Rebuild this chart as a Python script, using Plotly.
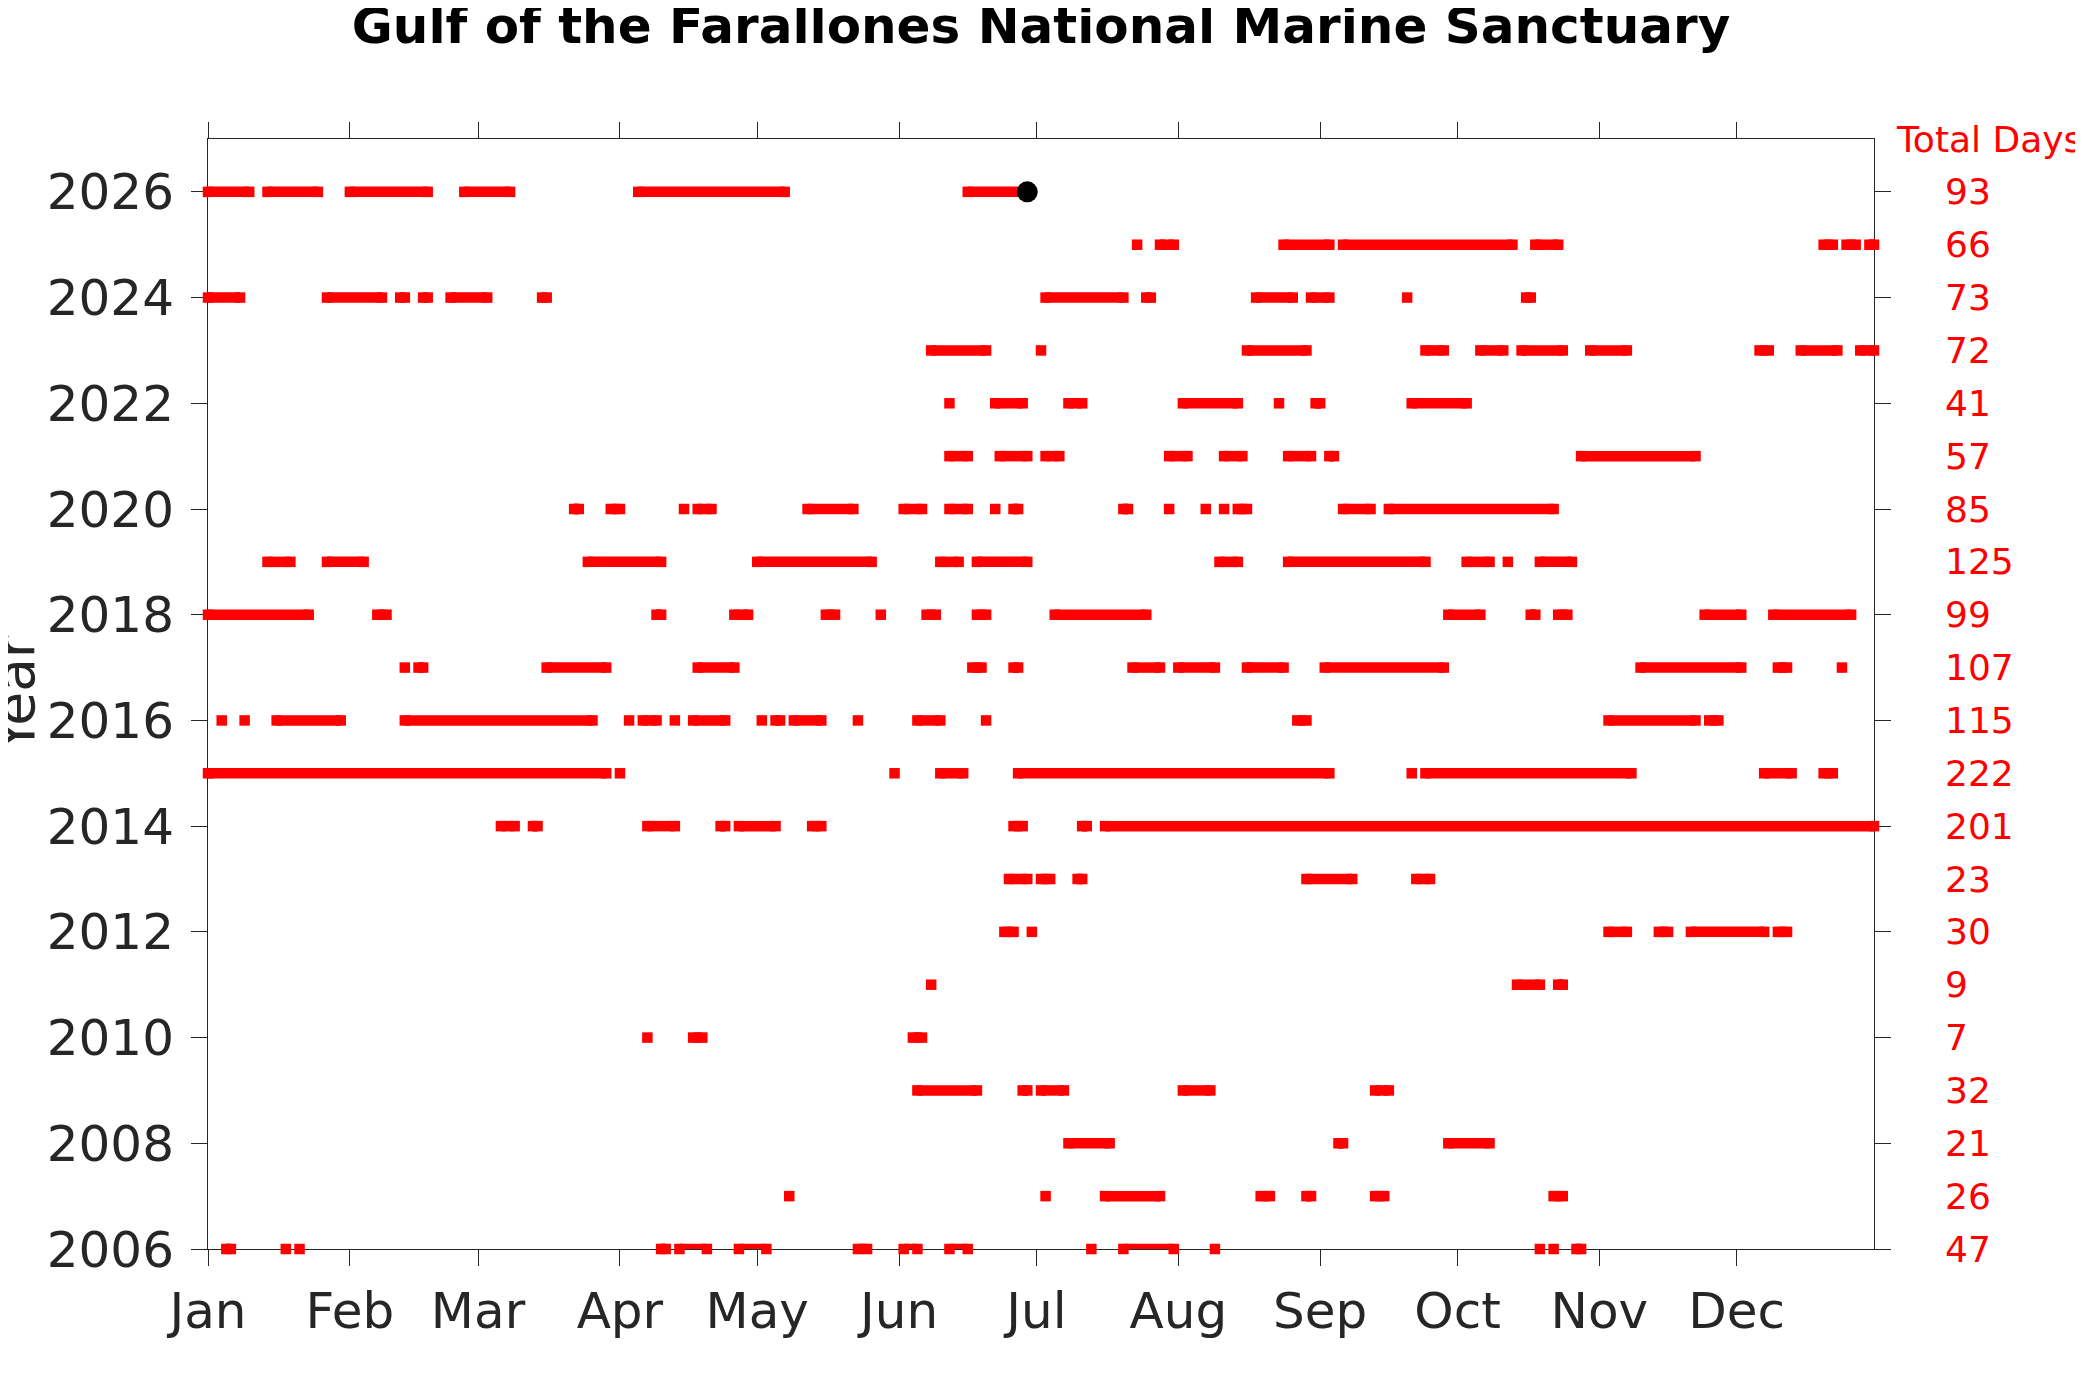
import plotly.graph_objects as go

# ---------------- data ----------------
years = list(range(2006, 2027))

# heatwave day ranges per year, as (first day-of-year, last day-of-year)
seg_2006 = [(5, 6), (18, 18), (21, 21), (100, 101), (104, 110), (117, 123), (143, 145), (153, 156),
            (163, 167), (194, 194), (201, 212), (221, 221), (292, 292), (295, 295), (300, 301)]
seg_2007 = [(128, 128), (184, 184), (197, 209), (231, 233), (241, 242), (256, 258), (295, 297)]
seg_2008 = [(189, 198), (248, 249), (272, 281)]
seg_2009 = [(156, 169), (179, 180), (183, 188), (214, 220), (256, 259)]
seg_2010 = [(97, 97), (107, 109), (155, 157)]
seg_2011 = [(159, 159), (287, 292), (296, 297)]
seg_2012 = [(175, 177), (181, 181), (307, 311), (318, 320), (325, 341), (344, 346)]
seg_2013 = [(176, 180), (183, 185), (191, 192), (241, 251), (265, 268)]
seg_2014 = [(65, 68), (72, 73), (97, 103), (113, 114), (117, 125), (133, 135), (177, 179),
            (192, 193), (197, 365)]
seg_2015 = [(1, 88), (91, 91), (151, 151), (161, 166), (178, 246), (264, 264), (267, 312),
            (341, 347), (354, 356)]
seg_2016 = [(4, 4), (9, 9), (16, 30), (44, 85), (93, 93), (96, 99), (103, 103), (107, 114),
            (122, 122), (125, 126), (129, 135), (143, 143), (156, 161), (171, 171), (239, 241),
            (307, 326), (329, 331)]
seg_2017 = [(44, 44), (47, 48), (75, 88), (108, 116), (168, 170), (177, 178), (203, 209),
            (213, 221), (228, 236), (245, 271), (314, 336), (344, 346), (358, 358)]
seg_2018 = [(1, 23), (38, 40), (99, 100), (116, 119), (136, 138), (148, 148), (158, 160),
            (169, 171), (186, 206), (272, 279), (290, 291), (296, 298), (328, 336), (343, 360)]
seg_2019 = [(14, 19), (27, 35), (84, 100), (121, 146), (161, 165), (169, 180), (222, 226),
            (237, 267), (276, 281), (285, 285), (292, 299)]
seg_2020 = [(81, 82), (89, 91), (105, 105), (108, 111), (132, 142), (153, 157), (163, 167),
            (173, 173), (177, 178), (201, 202), (211, 211), (219, 219), (223, 223), (226, 228),
            (249, 255), (259, 295)]
seg_2021 = [(163, 167), (174, 180), (184, 187), (211, 215), (223, 227), (237, 242), (246, 247),
            (301, 326)]
seg_2022 = [(163, 163), (173, 179), (189, 192), (214, 226), (235, 235), (243, 244), (264, 276)]
seg_2023 = [(159, 171), (183, 183), (228, 241), (267, 271), (279, 284), (288, 297), (303, 311),
            (340, 342), (349, 357), (362, 365)]
seg_2024 = [(1, 8), (27, 39), (43, 44), (48, 49), (54, 62), (74, 75), (184, 201), (206, 207),
            (230, 238), (242, 246), (263, 263), (289, 290)]
seg_2025 = [(204, 204), (209, 212), (236, 246), (249, 286), (291, 296), (354, 356), (359, 361),
            (364, 365)]
seg_2026 = [(1, 10), (14, 25), (32, 49), (57, 67), (95, 127), (167, 180)]

segments = [seg_2006, seg_2007, seg_2008, seg_2009, seg_2010, seg_2011, seg_2012, seg_2013,
            seg_2014, seg_2015, seg_2016, seg_2017, seg_2018, seg_2019, seg_2020, seg_2021,
            seg_2022, seg_2023, seg_2024, seg_2025, seg_2026]

total_days = [47, 26, 21, 32, 7, 9, 30, 23, 201, 222, 115, 107, 99, 125, 85, 57, 41, 72, 73, 66, 93]

current_year = 2026
current_doy = 180

month_names = ["Jan", "Feb", "Mar", "Apr", "May", "Jun", "Jul", "Aug", "Sep", "Oct", "Nov", "Dec"]
month_start_doy = [1, 32, 60, 91, 121, 152, 182, 213, 244, 274, 305, 335]

year_ticks = list(range(2006, 2027, 2))

# ---------------- figure ----------------
# the page body adds an 8 px offset, so the figure is 8 px smaller than the window
W, H = 2075, 1381
ML, MR, MT, MB = 200, 209, 131, 140
PW = W - ML - MR
AX = "#262626"
FONT = "DejaVu Sans"

xs, ys = [], []
for yr, segs in zip(years, segments):
    for a, b in segs:
        if a == b:
            xs += [a, None]
            ys += [yr, None]
        else:
            xs += [a, b, None]
            ys += [yr, yr, None]

fig = go.Figure()
fig.add_trace(go.Scatter(
    x=xs, y=ys, mode="lines+markers",
    line=dict(color="#FF0000", width=10.5),
    marker=dict(symbol="square", size=10.5, color="#FF0000", line=dict(width=0)),
    cliponaxis=False, connectgaps=False, hoverinfo="skip", showlegend=False,
))
fig.add_trace(go.Scatter(
    x=[current_doy], y=[current_year], mode="markers",
    marker=dict(size=21, color="black", line=dict(width=0)),
    cliponaxis=False, hoverinfo="skip", showlegend=False,
))

annotations = []
for yr, n in zip(years, total_days):
    annotations.append(dict(
        x=1, xref="paper", xshift=69, xanchor="left",
        y=yr, yref="y", yanchor="middle",
        text=str(n), showarrow=False,
        font=dict(family=FONT, size=36, color="#FF0000"),
    ))
annotations.append(dict(
    x=1, xref="paper", xshift=20, xanchor="left",
    y=2027, yref="y", yanchor="middle",
    text="Total Days", showarrow=False,
    font=dict(family=FONT, size=36, color="#FF0000"),
))
annotations.append(dict(
    x=(7 - ML) / PW, xref="paper", xanchor="center",
    y=0.5, yref="paper", yanchor="middle",
    text="Year", textangle=-90, showarrow=False,
    font=dict(family=FONT, size=55, color=AX),
))

fig.update_layout(
    width=W, height=H,
    margin=dict(l=ML, r=MR, t=MT, b=MB, pad=0),
    paper_bgcolor="white", plot_bgcolor="white",
    title=dict(
        text="<b>Gulf of the Farallones National Marine Sanctuary</b>",
        x=0.5, xref="paper", xanchor="center",
        y=1 - 17.5 / H, yref="container", yanchor="middle",
        font=dict(family=FONT, size=50, color="black"),
    ),
    annotations=annotations,
    showlegend=False,
)
fig.update_xaxes(
    range=[1, 365], tickmode="array", tickvals=month_start_doy, ticktext=month_names,
    ticks="outside", ticklen=16, tickwidth=1, tickcolor=AX,
    showline=True, linecolor=AX, linewidth=1, mirror="ticks",
    showgrid=False, zeroline=False, layer="below traces",
    tickfont=dict(family=FONT, size=50, color=AX), ticklabelstandoff=2,
)
fig.update_yaxes(
    range=[2006, 2027], tickmode="array", tickvals=year_ticks,
    ticks="outside", ticklen=16, tickwidth=1, tickcolor=AX,
    showline=True, linecolor=AX, linewidth=1, mirror="ticks",
    showgrid=False, zeroline=False, layer="below traces",
    tickfont=dict(family=FONT, size=50, color=AX), ticklabelstandoff=7,
)

fig.write_html("out.html")
